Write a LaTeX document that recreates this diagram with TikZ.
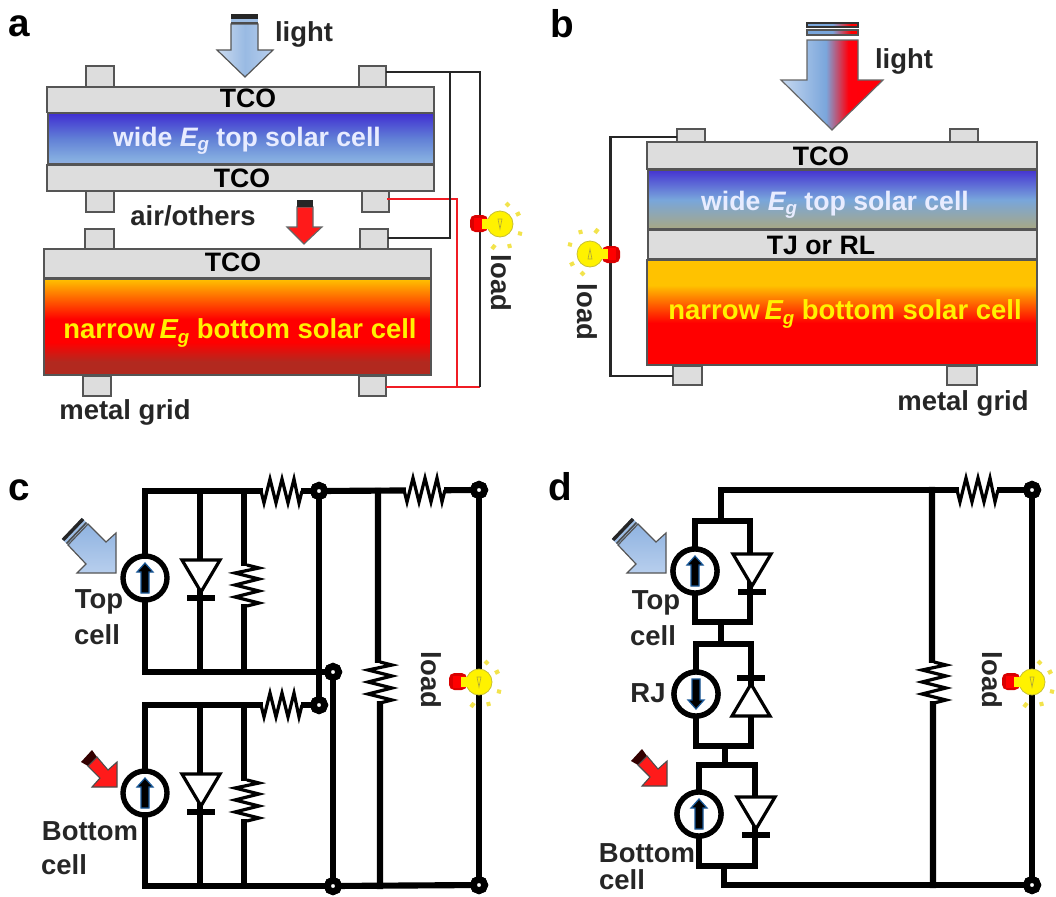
\documentclass[tikz,border=0pt]{standalone}
\usepackage{fontspec}
\setmainfont{Liberation Sans}
\definecolor{tcofill}{HTML}{DDDDDD}
\definecolor{edgegray}{HTML}{555555}
\definecolor{sky}{HTML}{9DBDE4}
\definecolor{wideink}{HTML}{E8ECFF}
\definecolor{wirered}{HTML}{F01C24}
\definecolor{bulbrays}{HTML}{F2E34C}
\definecolor{arrowred}{HTML}{FF1A1A}
\pgfdeclareverticalshading{bluea}{100bp}{
  rgb(0bp)=(0.58,0.68,0.88);rgb(25bp)=(0.58,0.68,0.88);rgb(30bp)=(0.52,0.68,0.88);rgb(50bp)=(0.38,0.50,0.84);rgb(75bp)=(0.25,0.18,0.82);rgb(100bp)=(0.25,0.18,0.82)}
\pgfdeclareverticalshading{blueb}{100bp}{
  rgb(0bp)=(0.66,0.66,0.52);rgb(25bp)=(0.66,0.66,0.52);rgb(50bp)=(0.47,0.65,0.86);rgb(75bp)=(0.27,0.20,0.82);rgb(100bp)=(0.27,0.20,0.82)}
\pgfdeclareverticalshading{reda}{100bp}{
  rgb(0bp)=(0.70,0.16,0.12);rgb(25bp)=(0.70,0.16,0.12);rgb(32bp)=(0.70,0.16,0.12);rgb(42bp)=(1,0,0);rgb(54bp)=(1,0,0);rgb(75bp)=(1,0.76,0);rgb(100bp)=(1,0.76,0)}
\pgfdeclareverticalshading{redb}{100bp}{
  rgb(0bp)=(1,0,0);rgb(45bp)=(1,0,0);rgb(63bp)=(1,0.76,0);rgb(100bp)=(1,0.76,0)}
\pgfdeclarehorizontalshading{bluearrow}{100bp}{
  rgb(0bp)=(0.80,0.86,0.94);rgb(25bp)=(0.80,0.86,0.94);rgb(50bp)=(0.60,0.73,0.89);rgb(75bp)=(0.72,0.81,0.93);rgb(100bp)=(0.72,0.81,0.93)}
\pgfdeclarehorizontalshading{mixarrow}{100bp}{
  rgb(0bp)=(0.78,0.85,0.94);rgb(25bp)=(0.78,0.85,0.94);rgb(47bp)=(0.48,0.65,0.86);rgb(58bp)=(1,0,0.05);rgb(100bp)=(1,0,0)}
\pgfdeclarehorizontalshading{mixbar}{100bp}{
  rgb(0bp)=(0.48,0.65,0.86);rgb(50bp)=(0.48,0.65,0.86);rgb(68bp)=(1,0,0);rgb(100bp)=(1,0,0)}
\pgfdeclareverticalshading{diagblue}{100bp}{
  rgb(0bp)=(0.72,0.81,0.93);rgb(25bp)=(0.72,0.81,0.93);rgb(75bp)=(0.56,0.70,0.88);rgb(100bp)=(0.56,0.70,0.88)}
\newcommand{\Eg}{{\itshape E}\raisebox{-0.32ex}{\fontsize{14}{14}\selectfont\itshape g}}
\tikzset{
  x=0.75pt,y=-0.75pt,
  every node/.style={inner sep=0pt,outer sep=0pt},
  layer/.style={draw=edgegray,line width=1pt,fill=tcofill},
  contact/.style={draw=edgegray,line width=1pt,fill=tcofill},
  cellframe/.style={draw=edgegray,line width=0.9pt},
  panel/.style={font=\fontsize{29}{29}\selectfont\bfseries},
  big/.style={font=\fontsize{20}{20}\selectfont\bfseries},
  bigwide/.style={font=\fontsize{20.6}{20.6}\selectfont\bfseries},
  capt/.style={font=\fontsize{20.6}{20.6}\selectfont\bfseries,text=black!85},
  thinwire/.style={draw=black!85,line width=2pt,line join=miter},
  redwire/.style={draw=wirered,line width=2pt,line join=miter},
  wire/.style={draw=black,line width=4.6pt,line cap=rect,line join=miter},
  junction/.style={circle,draw=black,line width=5pt,fill=white,minimum size=8.5pt},
  srccirc/.style={circle,draw=black,line width=4pt,fill=white,minimum size=33pt},
  pics/resistor/.style={code={
    \fill[white] (-19,-15) rectangle (19,15);
    \draw[black,line width=2.4pt,line join=miter]
      (-21,0) -- (-18,12) -- (-12,-12) -- (-6,12) -- (0,-12) -- (6,12) -- (12,-12) -- (17,12) -- (20,0);
  }},
  pics/diode/.style={code={
    \draw[black,line width=2.4pt,fill=white,line join=miter] (-19,-16) -- (19,-16) -- (0,16) -- cycle;
    \fill[black] (-14,19) rectangle (14,25);
  }},
  pics/srcarrow/.style={code={
    \draw[draw={rgb,1:red,0.1;green,0.35;blue,0.6},line width=0.9pt,fill=black,line join=miter]
      (0,-15) -- (8,-6) -- (4,-6) -- (4,15) -- (-4,15) -- (-4,-6) -- (-8,-6) -- cycle;
  }},
  pics/bulb/.style={code={
    \foreach \a/\b/\c/\d in {6/-21/9/-18,16/-9/20/-11,18/9/22/10,9/20/10/24,-5/21/-8/25}
      \draw[draw=bulbrays,line width=3pt] (\a,\b) -- (\c,\d);
    \fill[red!85!black,rounded corners=4pt] (-30,-9) rectangle (-12,8);
    \fill[red] (-26,-6) rectangle (-14,6);
    \draw[draw=black!25!yellow,line width=0.6pt,fill=yellow] (0,0) circle[radius=13];
    \fill[yellow] (-18,-5) rectangle (-8,5);
    \draw[draw=olive!70,line width=0.5pt] (-2,-5) -- (2,-5) -- (0,5) -- cycle;
  }},
  pics/blueslant/.style={code={
    \fill[sky] (-34,-55) -- (-54,-34) -- (-48,-28) -- (-28,-49) -- cycle;
    \draw[black!85,line width=2.6pt] (-33,-54) -- (-53,-33);
    \draw[black!70,line width=1.2pt] (-29.5,-50.5) -- (-49.5,-29.5);
    \draw[draw=edgegray,line width=0.9pt,shading=diagblue,line join=miter]
      (-28,-49) -- (-10,-31) -- (0,-40) -- (0,0) -- (-39,0) -- (-30,-9) -- (-48,-28) -- cycle;
  }},
  pics/redslant/.style={code={
    \fill[black!80!red] (-25,-37) -- (-20,-30) -- (-29,-21) -- (-36,-25) -- cycle;
    \draw[draw=black!70,line width=0.8pt,fill=arrowred,line join=miter]
      (-20,-30) -- (-9,-17) -- (0,-25) -- (0,0) -- (-25,0) -- (-17,-9) -- (-29,-21) -- cycle;
  }},
}
\begin{document}
\begin{tikzpicture}
\useasboundingbox (0,0) rectangle (1056,896);
% ===== panel a =====
\node[panel] (la) at (19,26) {a};
\foreach \xa/\ya/\xb/\yb in {86/66/114/87,359/66/386/87,86/191/114/212,362/191/389/212,85/229/114/249,360/229/388/249,83/376/111/396,359/376/386/396}
  \draw[contact] (\xa,\ya) rectangle (\xb,\yb);
\draw[layer] (47,87) rectangle (434,112.5);
\path[shading=bluea] (48,113) rectangle (434,164);
\draw[cellframe] (48,113) rectangle (434,164);
\draw[layer] (47,165) rectangle (434,191);
\draw[layer] (44,249) rectangle (431,278);
\path[shading=reda] (44,279) rectangle (431,375);
\draw[cellframe] (44,279) rectangle (431,375);
\node[big] (ta1) at (248,98.5) {TCO};
\node[big,text=wideink] (wa) at (247,141) {wide \Eg{} top solar cell};
\node[big] (ta2) at (242,178) {TCO};
\node[capt] (air) at (193,216) {air/others};
\node[big] (ta3) at (233,262) {TCO};
\node[bigwide,text=yellow] (na) at (240,333) {narrow\,\Eg{} bottom solar cell};
\node[capt] (mga) at (125,412) {metal grid};
\node[capt] (lia) at (304,34) {light};
\node[capt,rotate=-90] (loa) at (501,283) {load};
% light arrows a
\draw[draw=edgegray,line width=0.9pt,shading=bluearrow,line join=miter]
  (231,24) -- (258,24) -- (258,50) -- (273,50) -- (245,77) -- (217,50) -- (231,50) -- cycle;
\fill[black!85] (231,14) rectangle (258,18.5);
\fill[sky] (231,18.5) rectangle (258,22);
\fill[black!70] (231,22) rectangle (258,24);
\draw[draw=black!60,line width=0.8pt,fill=arrowred,line join=miter]
  (297,207) -- (313,207) -- (313,227) -- (322,227) -- (304,244) -- (287,227) -- (297,227) -- cycle;
\fill[black!85] (297,200) rectangle (313,207);
% wires a
\coordinate (a1) at (386,72); \coordinate (a2) at (450,72); \coordinate (a3) at (480,72);
\coordinate (a4) at (480,387); \coordinate (a5) at (388,238); \coordinate (a6) at (450,238);
\coordinate (a7) at (387,199); \coordinate (a8) at (457,199); \coordinate (a9) at (457,387); \coordinate (a10) at (386,387);
\draw[redwire] (a7) -- (a8) -- (a9);
\draw[redwire] (a10) -- (a4);
\draw[thinwire] (a1) -- (a3) -- (a4);
\draw[thinwire] (a2) -- (a6) -- (a5);
\pic at (500,224) {bulb};
% ===== panel b =====
\node[panel] (lb) at (562,24) {b};
\foreach \xa/\ya/\xb/\yb in {677/129/705/142,950/129/978/142,673/366/702/385,947/366/977/385}
  \draw[contact] (\xa,\ya) rectangle (\xb,\yb);
\draw[layer] (647,142) rectangle (1037,169);
\path[shading=blueb] (648,170) rectangle (1037,229);
\draw[cellframe] (648,170) rectangle (1037,229);
\draw[layer] (648,230) rectangle (1037,259);
\path[shading=redb] (647,260) rectangle (1037,365);
\draw[cellframe] (647,260) rectangle (1037,365);
\node[big] (tb1) at (821,156.5) {TCO};
\node[big,text=wideink] (wb) at (835,205) {wide \Eg{} top solar cell};
\node[big] (tj) at (821,245.5) {TJ or RL};
\node[bigwide,text=yellow] (nb) at (845,314) {narrow\,\Eg{} bottom solar cell};
\node[capt] (mgb) at (963,403) {metal grid};
\node[capt] (lib) at (904,61) {light};
\node[capt,rotate=-90] (lob) at (587,312) {load};
\draw[draw=black!60,line width=0.9pt,shading=mixarrow,line join=miter]
  (807,40) -- (858,40) -- (858,80) -- (883,80) -- (832,130) -- (781,80) -- (807,80) -- cycle;
\path[shading=mixbar,draw=edgegray,line width=0.8pt] (807,30) rectangle (858,35);
\path[shading=mixbar,draw=black!80,line width=0.8pt] (807,23) rectangle (858,27);
\coordinate (b1) at (677,137); \coordinate (b2) at (610.5,137); \coordinate (b3) at (610.5,376); \coordinate (b4) at (673,376);
\draw[thinwire] (b1) -- (b2) -- (b3) -- (b4);
\pic[rotate=180] at (590,254) {bulb};
% ===== panel c =====
\node[panel] (lc) at (19,490) {c};
\node[srccirc] (sc1) at (145,578) {};
\node[srccirc] (sc2) at (145,793) {};
\node[junction] (jc1) at (319,491) {};
\node[junction] (jc2) at (479,490) {};
\node[junction] (jc3) at (333,672) {};
\node[junction] (jc4) at (319,705) {};
\node[junction] (jc5) at (333,886) {};
\node[junction] (jc6) at (479,885) {};
\coordinate (c1) at (145,491); \coordinate (c2) at (145,672);
\coordinate (c3) at (145,705); \coordinate (c4) at (145,886);
\coordinate (c5) at (378,491); \coordinate (c6) at (380,886);
\coordinate (c7) at (200,491); \coordinate (c8) at (200,672);
\coordinate (c9) at (244,491); \coordinate (c10) at (244,672);
\coordinate (c11) at (200,705); \coordinate (c12) at (200,886);
\coordinate (c13) at (244,705); \coordinate (c14) at (244,886);
\draw[wire] (sc1) -- (c1) -- (jc1);
\draw[wire] (sc1) -- (c2) -- (jc3);
\draw[wire] (sc2) -- (c3) -- (jc4);
\draw[wire] (sc2) -- (c4) -- (jc5);
\draw[wire] (c7) -- (c8); \draw[wire] (c9) -- (c10);
\draw[wire] (c11) -- (c12); \draw[wire] (c13) -- (c14);
\draw[wire] (jc1) -- (jc2);
\draw[wire] (jc1) -- (jc4);
\draw[wire] (jc3) -- (jc5);
\draw[wire] (jc5) -- (jc6);
\draw[wire] (jc2) -- (jc6);
\draw[wire] (c5) -- (378,663) -- (380,702) -- (c6);
\node[junction] at (jc1) {}; \node[junction] at (jc2) {}; \node[junction] at (jc3) {};
\node[junction] at (jc4) {}; \node[junction] at (jc5) {}; \node[junction] at (jc6) {};
\pic at (282,491) {resistor};
\pic at (425,490) {resistor};
\pic at (282,705) {resistor};
\pic[rotate=90] at (247,585) {resistor};
\pic[rotate=90] at (247,800) {resistor};
\pic[rotate=90] at (380,682) {resistor};
\pic at (201,576) {diode};
\pic at (201,790) {diode};
\pic at (145,578) {srcarrow};
\pic at (145,793) {srcarrow};
\pic at (116,573) {blueslant};
\pic at (117,787) {redslant};
\pic at (479,682) {bulb};
\node[capt] (ct1) at (99,602) {Top};
\node[capt] (ct2) at (97,635) {cell};
\node[capt] (cb1) at (90,831) {Bottom};
\node[capt] (cb2) at (64,865) {cell};
\node[capt,rotate=-90] (loc) at (431,680) {load};
% ===== panel d =====
\node[panel] (ld) at (560,487) {d};
\node[srccirc] (sd1) at (695,571) {};
\node[srccirc] (sd2) at (696,694) {};
\node[srccirc] (sd3) at (699,814) {};
\node[junction] (jd1) at (1032,490) {};
\node[junction] (jd2) at (1032,885) {};
\coordinate (d1) at (721,490); \coordinate (d2) at (721,521);
\coordinate (d3) at (695,521); \coordinate (d4) at (750,521); \coordinate (d5) at (695,622); \coordinate (d6) at (750,622);
\coordinate (d7) at (721,622); \coordinate (d8) at (721,644);
\coordinate (d9) at (696,644); \coordinate (d10) at (751,644); \coordinate (d11) at (696,746); \coordinate (d12) at (751,746);
\coordinate (d13) at (725,746); \coordinate (d14) at (725,765);
\coordinate (d15) at (699,765); \coordinate (d16) at (755,765); \coordinate (d17) at (699,866); \coordinate (d18) at (755,866);
\coordinate (d19) at (724,866); \coordinate (d20) at (724,885);
\coordinate (d21) at (932,490); \coordinate (d22) at (933,885);
\draw[wire] (jd1) -- (d1) -- (d2);
\draw[wire] (sd1) -- (d3) -- (d4) -- (d6) -- (d5) -- (sd1);
\draw[wire] (d7) -- (d8);
\draw[wire] (sd2) -- (d9) -- (d10) -- (d12) -- (d11) -- (sd2);
\draw[wire] (d13) -- (d14);
\draw[wire] (sd3) -- (d15) -- (d16) -- (d18) -- (d17) -- (sd3);
\draw[wire] (d19) -- (d20) -- (jd2);
\draw[wire] (jd1) -- (jd2);
\draw[wire] (d21) -- (932,663) -- (933,702) -- (d22);
\node[srccirc] at (sd1) {}; \node[srccirc] at (sd2) {}; \node[srccirc] at (sd3) {};
\node[junction] at (jd1) {}; \node[junction] at (jd2) {};
\pic at (978,490) {resistor};
\pic[rotate=90] at (934,682) {resistor};
\pic at (752,570) {diode};
\pic[rotate=180] at (751,700) {diode};
\pic at (756,813) {diode};
\pic at (695,571) {srcarrow};
\pic[rotate=180] at (696,694) {srcarrow};
\pic at (699,814) {srcarrow};
\pic at (666,573) {blueslant};
\pic at (667,786) {redslant};
\pic at (1032,682) {bulb};
\node[capt] (dt1) at (656,603) {Top};
\node[capt] (dt2) at (653,636) {cell};
\node[capt] (drj) at (648,693) {RJ};
\node[capt] (db1) at (647,853) {Bottom};
\node[capt] (db2) at (622,880) {cell};
\node[capt,rotate=-90] (lod) at (992,680) {load};
\end{tikzpicture}
\end{document}
